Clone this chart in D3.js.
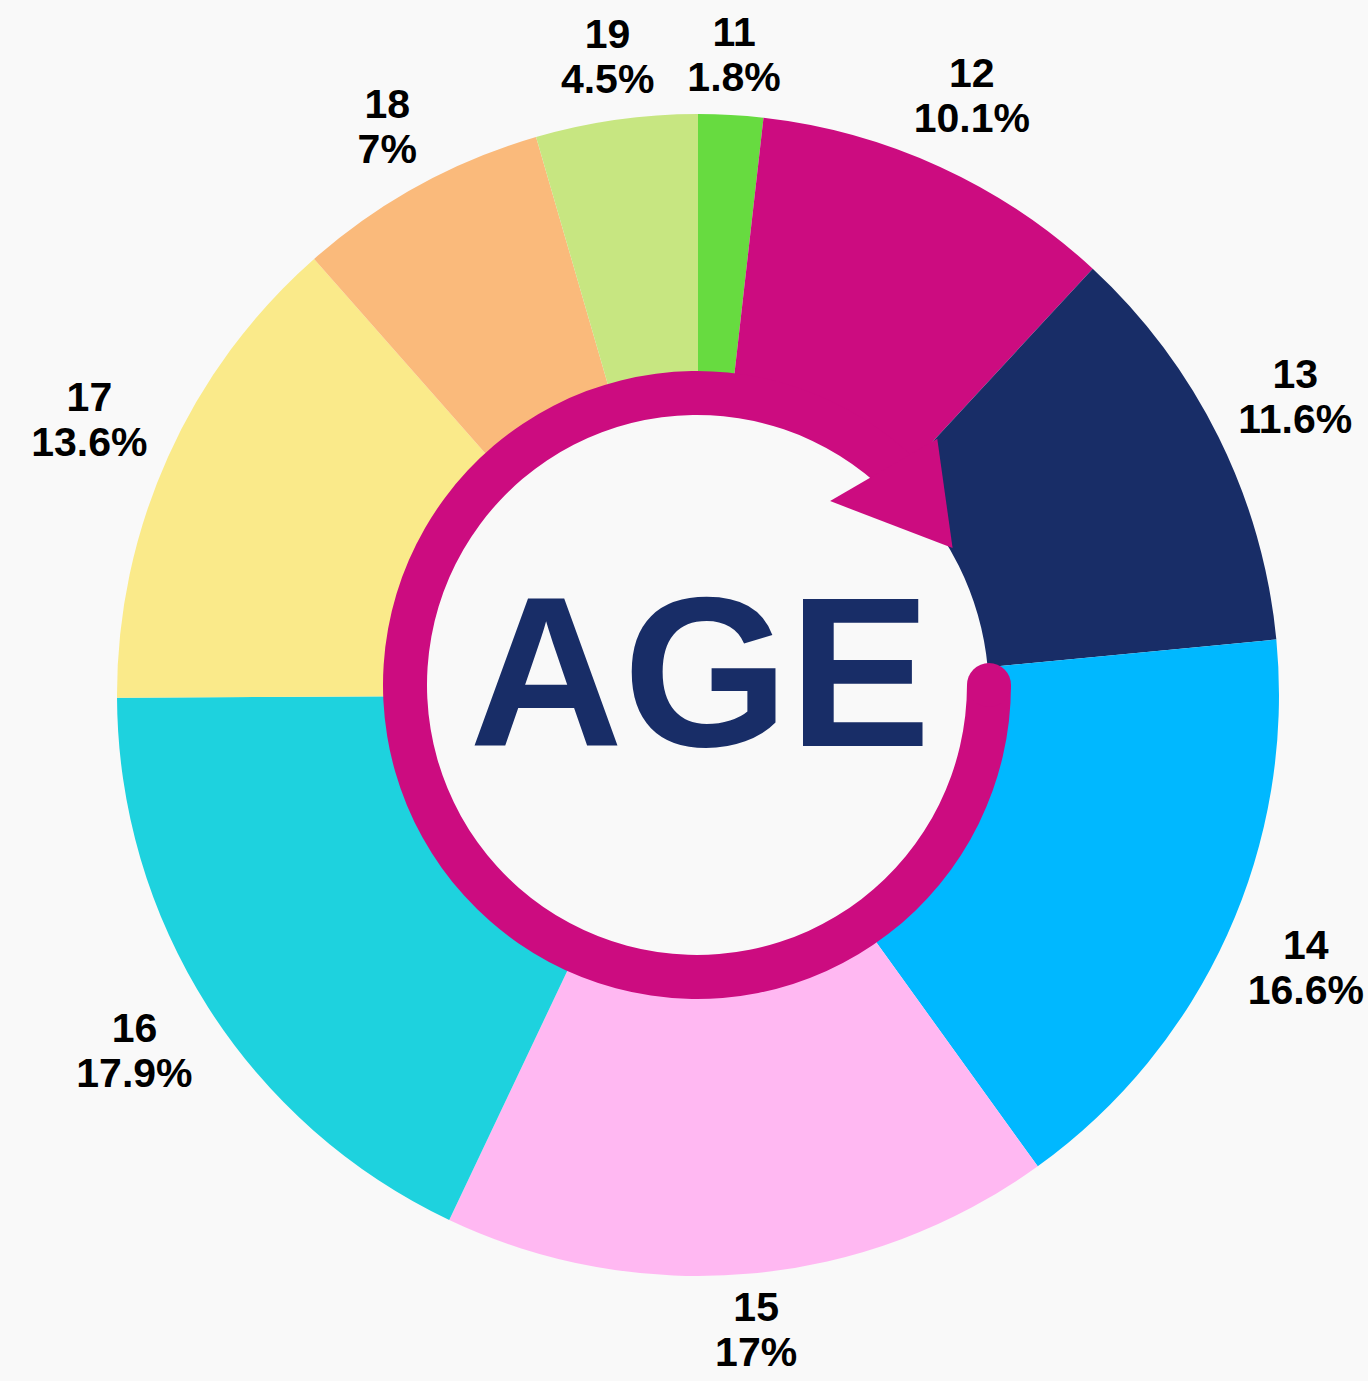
<!DOCTYPE html>
<html>
<head>
<meta charset="utf-8">
<script src="https://cdn.jsdelivr.net/npm/d3@7"></script>
<style>
  html, body { margin: 0; padding: 0; background: #f9f9f9; }
  svg { display: block; }
</style>
</head>
<body>
<svg id="chart" width="1368" height="1381"></svg>
<script>
// ---- data ----
const categories = ["11", "12", "13", "14", "15", "16", "17", "18", "19"];
const values = [1.8, 10.1, 11.6, 16.6, 17, 17.9, 13.6, 7, 4.5];
const sliceColors = ["#67db40", "#cc0c80", "#182d67", "#00b8ff", "#ffb8f2", "#1ed2de", "#faea8a", "#faba7b", "#c7e681"];
const centerTitle = "AGE";

// ---- layout ----
const W = 1368, H = 1381;
const cx = 698, cy = 695;            // pie centre
const rcx = 697, rcy = 685;          // ring centre
const outerR = 581, innerR = 291;
const ringInner = 270, ringOuter = 314;
const ringColor = "#cc0c80";
const deg = Math.PI / 180;

const svg = d3.select("#chart");
svg.append("rect").attr("width", W).attr("height", H).attr("fill", "#f9f9f9");
const g = svg.append("g").attr("transform", `translate(${cx},${cy})`);

const data = categories.map((c, i) => ({ cat: c, value: values[i], color: sliceColors[i] }));
const pie = d3.pie().sort(null).value(d => d.value).startAngle(0).endAngle(2 * Math.PI);
const arcs = pie(data);

const arcGen = d3.arc().innerRadius(innerR).outerRadius(outerR);

g.selectAll("path.slice").data(arcs).join("path")
  .attr("class", "slice")
  .attr("d", arcGen)
  .attr("fill", d => d.data.color);

// ---- ring with arrow ----
const rg = svg.append("g").attr("transform", `translate(${rcx},${rcy})`);
const ringStart = 90 * deg, ringEnd = (360 + 45) * deg;
rg.append("path")
  .attr("d", d3.arc()({ innerRadius: ringInner, outerRadius: ringOuter, startAngle: ringStart, endAngle: ringEnd }))
  .attr("fill", ringColor);
const capR = (ringOuter - ringInner) / 2;
const capC = d3.pointRadial(ringStart, (ringOuter + ringInner) / 2);
rg.append("circle").attr("cx", capC[0]).attr("cy", capC[1]).attr("r", capR).attr("fill", ringColor);

const arrowPts = [
  d3.pointRadial(35.9 * deg, 227),
  d3.pointRadial(44.3 * deg, 344),
  d3.pointRadial(61.8 * deg, 290)
];
rg.append("path")
  .attr("d", d3.line()(arrowPts) + "Z")
  .attr("fill", ringColor);

// ---- center title ----
g.append("text")
  .attr("x", 2).attr("y", 51)
  .attr("text-anchor", "middle")
  .attr("font-family", "'Liberation Sans', Arial, sans-serif")
  .attr("font-weight", "bold")
  .attr("font-size", 213)
  .attr("fill", "#182d67")
  .text(centerTitle);

// ---- labels ----
const R0 = 599;
const labels = g.selectAll("g.label").data(arcs).join("g").attr("class", "label");
labels.each(function (d) {
  const t = d3.select(this).append("text")
    .attr("text-anchor", "middle")
    .attr("font-family", "'Liberation Sans', Arial, sans-serif")
    .attr("font-weight", "bold")
    .attr("font-size", 41)
    .attr("fill", "#000");
  t.append("tspan").attr("x", 0).attr("y", 0).text(d.data.cat);
  t.append("tspan").attr("x", 0).attr("y", 45).text(d.data.value + "%");
  const bb = t.node().getBBox();
  const mid = (d.startAngle + d.endAngle) / 2;
  const hw = bb.width / 2, hh = 37;
  const r = R0 + Math.abs(Math.sin(mid)) * hw + Math.abs(Math.cos(mid)) * hh;
  const p = d3.pointRadial(mid, r);
  // visible block: cap top (-29) to second baseline (45) -> centre ~ 8
  d3.select(this).attr("transform", `translate(${p[0]},${p[1] - 11})`);
});
</script>
</body>
</html>
